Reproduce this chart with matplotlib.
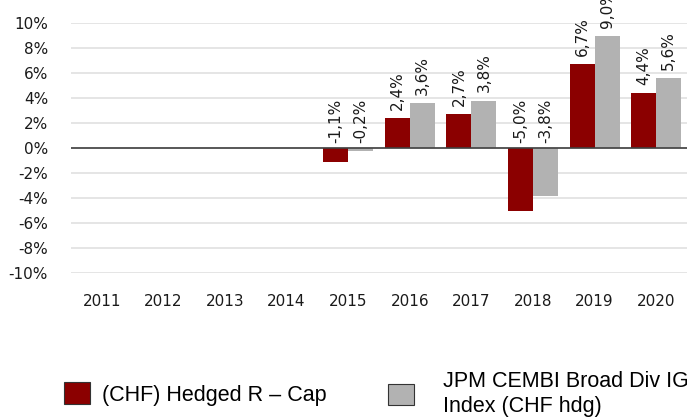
import numpy as np
import matplotlib
matplotlib.use("Agg")
import matplotlib.pyplot as plt
from matplotlib.patches import Patch

# data (percent)
years = ["2011", "2012", "2013", "2014", "2015", "2016", "2017", "2018", "2019", "2020"]
fund = [np.nan, np.nan, np.nan, np.nan, -1.1, 2.4, 2.7, -5.0, 6.7, 4.4]
index = [np.nan, np.nan, np.nan, np.nan, -0.2, 3.6, 3.8, -3.8, 9.0, 5.6]
fund_name = "(CHF) Hedged R \u2013 Cap"
index_name = "JPM CEMBI Broad Div IG\nIndex (CHF hdg)"
yticks = [-10, -8, -6, -4, -2, 0, 2, 4, 6, 8, 10]

red = "#8b0000"
grey = "#b2b2b2"

fig = plt.figure(figsize=(6.87, 4.2), dpi=100)
ax = fig.add_axes([71 / 687, (420 - 273) / 420, 1 - 71 / 687, 250 / 420])

x = np.arange(len(years))
w = 0.405
b1 = ax.bar(x - w / 2, fund, w, color=red, zorder=3)
b2 = ax.bar(x + w / 2, index, w, color=grey, zorder=3)

# value labels, rotated, decimal comma
for bars, vals in [(b1, fund), (b2, index)]:
    for rect, v in zip(bars, vals):
        if np.isnan(v):
            continue
        top = max(v, 0)
        off = 8 if v >= 0 else 5
        ax.annotate(("%.1f%%" % v).replace(".", ","),
                    (rect.get_x() + rect.get_width() / 2, top),
                    xytext=(0, off), textcoords="offset pixels",
                    rotation=90, ha="center", va="bottom",
                    fontsize=11, color="#1a1a1a", annotation_clip=False)

ax.set_xlim(-0.5, len(years) - 0.5)
ax.set_ylim(-10, 10)
ax.set_yticks(yticks)
ax.set_yticklabels(["%d%%" % t for t in yticks])
ax.set_xticks(x)
ax.set_xticklabels(years)
ax.tick_params(axis="both", length=0, labelsize=11, colors="#1a1a1a")
ax.tick_params(axis="y", pad=16.5)
ax.tick_params(axis="x", pad=15)
for s in ax.spines.values():
    s.set_visible(False)
ax.grid(axis="y", color="#e3e3e3", linewidth=1.3, zorder=0)
ax.axhline(0, color="#404040", linewidth=1.2, zorder=4)

leg_font = {"family": "Liberation Sans", "size": 15.5}
fig.legend(handles=[Patch(facecolor=red, edgecolor="#333333", linewidth=0.8, label=fund_name)],
           loc="center left", bbox_to_anchor=(64 / 687, 1 - 394 / 420),
           frameon=False, prop=leg_font, borderpad=0, borderaxespad=0,
           handlelength=1.2, handleheight=1.16, handletextpad=0.56)
fig.legend(handles=[Patch(facecolor=grey, edgecolor="#333333", linewidth=0.8, label=index_name)],
           loc="center left", bbox_to_anchor=(388 / 687, 1 - 394 / 420),
           frameon=False, prop=leg_font, borderpad=0, borderaxespad=0,
           handlelength=1.2, handleheight=1.16, handletextpad=1.35)

fig.savefig("out.png", dpi=100)
